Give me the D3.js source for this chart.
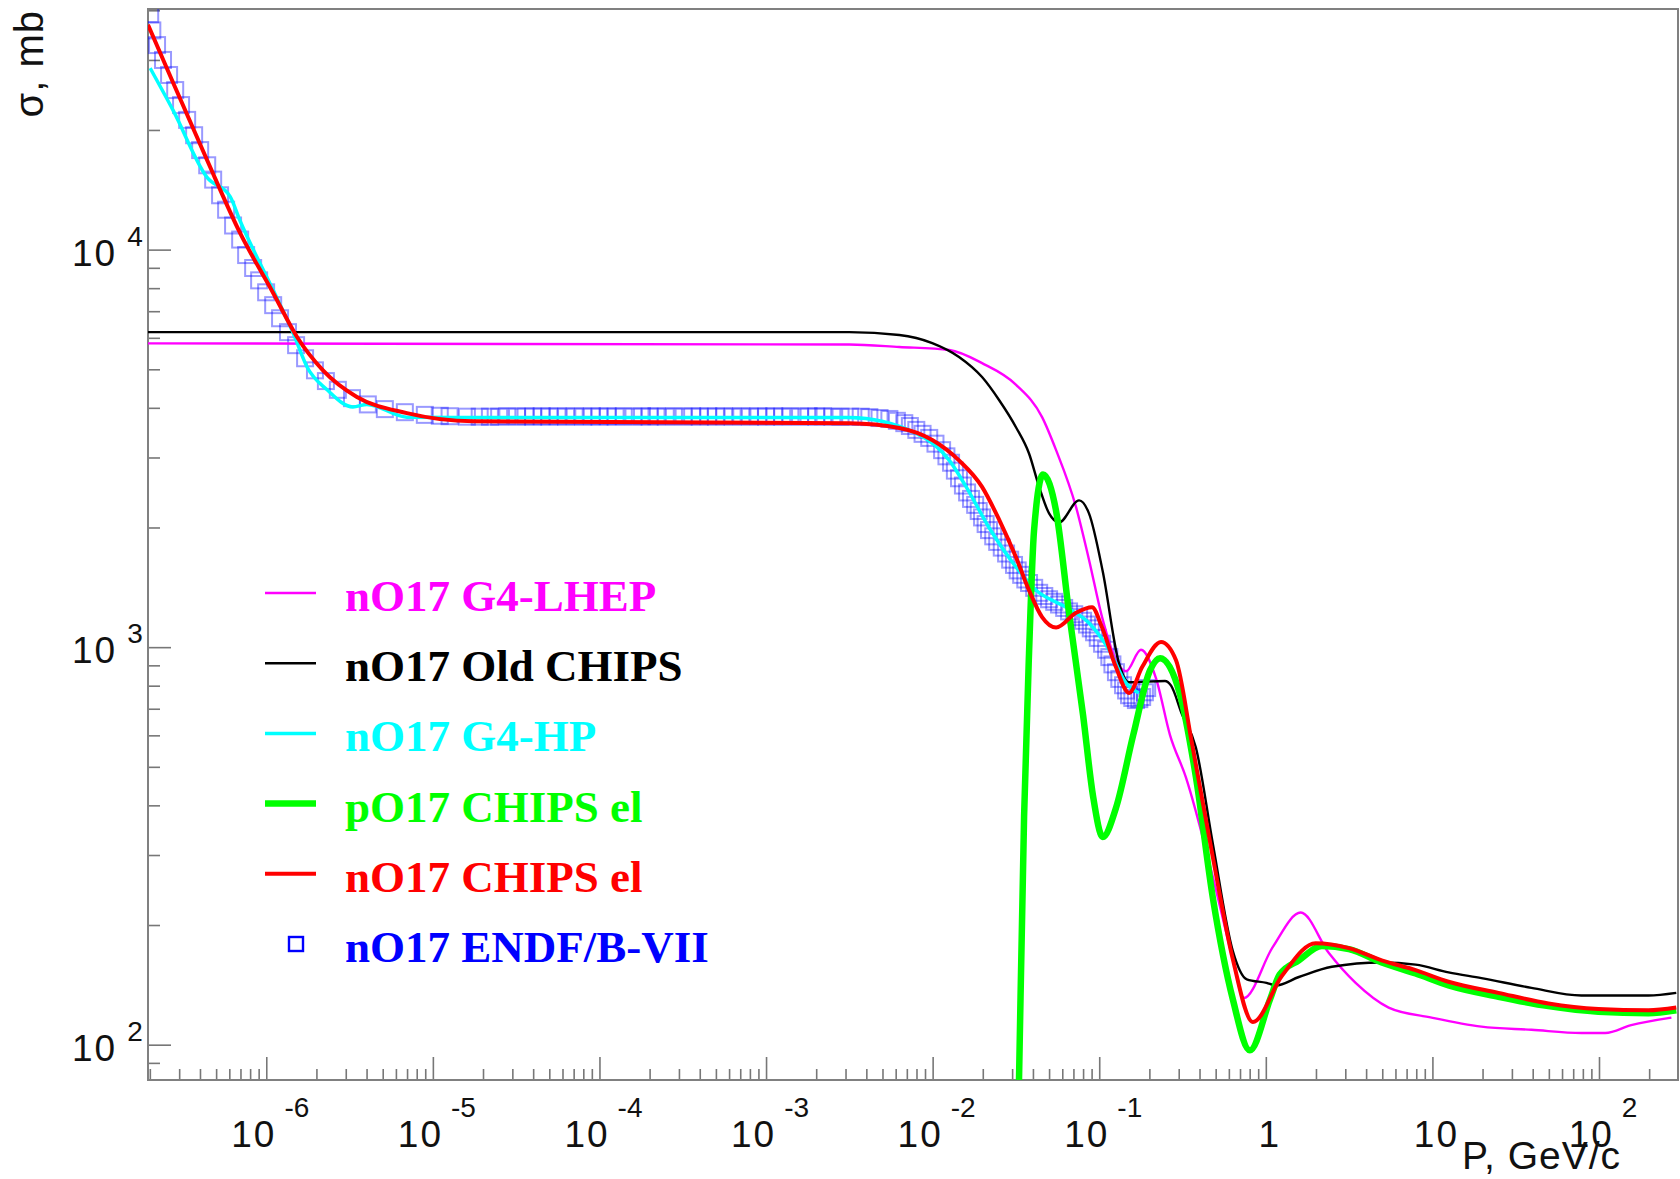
<!DOCTYPE html>
<html>
<head>
<meta charset="utf-8">
<script src="https://cdn.jsdelivr.net/npm/d3@7"></script>
<style>
  body { margin: 0; background: #fff; }
</style>
</head>
<body>
<div id="canvas"></div>
<script>
// momentum P (GeV/c) and cross section (mb)
const lhep = [
  [1.95e-7, 5810], [3.16e-3, 5770], [6.31e-3, 5690], [1.26e-2, 5590], [1.98e-2, 5180],
  [3.17e-2, 4570], [4.54e-2, 3790], [5.51e-2, 3130], [7.26e-2, 2250], [8.68e-2, 1660],
  [0.104, 1190], [0.126, 927], [0.145, 870], [0.178, 985], [0.219, 836], [0.266, 601],
  [0.331, 471], [0.481, 264], [0.634, 164], [0.738, 131], [1.10, 176], [1.62, 215],
  [2.39, 170], [3.46, 143], [5.46, 124], [9.89, 117], [19.7, 111], [39.3, 109],
  [78.4, 107], [109, 107], [156, 112], [272, 117]
];

const oldChips = [
  [1.95e-7, 6200], [3.16e-3, 6200], [6.31e-3, 6100], [9.95e-3, 5820], [1.44e-2, 5370],
  [1.98e-2, 4780], [2.51e-2, 4180], [3.17e-2, 3570], [3.79e-2, 3070], [4.36e-2, 2530],
  [5.00e-2, 2170], [5.74e-2, 2060], [7.57e-2, 2340], [8.68e-2, 2170], [0.105, 1550],
  [0.131, 916], [0.151, 816], [0.248, 822], [0.270, 800], [0.313, 680], [0.380, 560],
  [0.481, 320], [0.634, 172], [0.769, 146], [1.01, 143], [1.15, 141], [1.58, 148],
  [2.49, 157], [4.96, 161], [7.93, 159], [12.5, 152], [19.7, 147], [39.3, 139],
  [78.4, 133], [125, 133], [198, 133], [291, 135]
];

const g4hp = [
  [2.01e-7, 28600], [2.76e-7, 22400], [4.41e-7, 15200], [6.07e-7, 13600], [6.97e-7, 11800],
  [1.10e-6, 7910], [1.45e-6, 6170], [1.76e-6, 5060], [2.32e-6, 4440], [3.31e-6, 4020],
  [4.02e-6, 4080], [6.98e-6, 3790], [1.74e-5, 3780], [3.16e-3, 3780], [7.98e-3, 3450],
  [1.26e-2, 2950], [1.59e-2, 2530], [2.18e-2, 2000], [3.17e-2, 1590], [4.18e-2, 1390],
  [6.32e-2, 1260], [8.68e-2, 1150], [0.115, 982], [0.145, 812], [0.173, 767]
];

const pChipsEl = [
  [0.0321, 44], [0.0330, 81.5], [0.0354, 376], [0.0379, 966], [0.0406, 1960],
  [0.0460, 2720], [0.0551, 2200], [0.0659, 1220], [0.0800, 674], [0.0918, 422],
  [0.105, 333], [0.126, 394], [0.160, 601], [0.202, 875], [0.232, 938], [0.305, 762],
  [0.380, 473], [0.481, 234], [0.634, 130], [0.802, 96.8], [1.06, 130], [1.21, 150],
  [1.58, 163], [2.17, 177], [3.15, 174], [4.96, 161], [7.93, 151], [12.5, 141],
  [24.9, 132], [49.7, 125], [99.1, 121], [198, 120], [291, 122]
];

const nChipsEl = [
  [1.95e-7, 36800], [2.76e-7, 26300], [4.41e-7, 16800], [6.97e-7, 11000], [1.10e-6, 7780],
  [1.53e-6, 6030], [2.19e-6, 4970], [3.50e-6, 4260], [6.98e-6, 3880], [1.74e-5, 3700],
  [3.16e-3, 3660], [6.31e-3, 3560], [9.95e-3, 3320], [1.44e-2, 2950], [1.98e-2, 2530],
  [2.51e-2, 2090], [3.17e-2, 1680], [3.79e-2, 1390], [4.54e-2, 1190], [5.51e-2, 1120],
  [7.26e-2, 1220], [9.05e-2, 1260], [0.104, 1120], [0.126, 891], [0.151, 767],
  [0.181, 891], [0.235, 1030], [0.289, 927], [0.360, 574], [0.481, 296], [0.634, 164],
  [0.836, 114], [1.25, 149], [1.99, 180], [3.15, 175], [4.96, 163], [7.93, 154],
  [12.5, 144], [24.9, 135], [49.7, 127], [99.1, 123], [198, 122], [291, 124]
];

const endf = [
  [2.01e-7, 39100], [2.07e-7, 35600], [2.21e-7, 32700], [2.40e-7, 30000], [2.61e-7, 27500],
  [2.84e-7, 25200], [3.08e-7, 23100], [3.35e-7, 21200], [3.69e-7, 19400], [4.01e-7, 17800],
  [4.42e-7, 16300], [4.80e-7, 15000], [5.28e-7, 13700], [5.74e-7, 12600], [6.32e-7, 11500],
  [6.97e-7, 10600], [7.57e-7, 9690], [8.34e-7, 8990], [9.06e-7, 8370], [9.98e-7, 7810],
  [1.10e-6, 7250], [1.21e-6, 6720], [1.35e-6, 6200], [1.51e-6, 5750], [1.71e-6, 5330],
  [1.96e-6, 4970], [2.28e-6, 4670], [2.69e-6, 4440], [3.27e-6, 4230], [4.07e-6, 4080],
  [5.15e-6, 3970], [6.79e-6, 3900], [8.95e-6, 3840], [1.1e-5, 3820], [1.26e-5, 3810],
  [1.6e-5, 3800], [1.91e-5, 3800], [2.2e-5, 3800],
  [2.5e-5, 3800], [2.8e-5, 3810], [3.2e-5, 3800], [3.6e-5, 3810], [4e-5, 3800], [4.5e-5, 3810],
  [5e-5, 3800], [5.6e-5, 3810], [6.3e-5, 3800], [7.1e-5, 3810], [8e-5, 3800], [9e-5, 3810],
  [1e-4, 3800], [1.12e-4, 3810], [1.25e-4, 3800], [1.4e-4, 3810], [1.6e-4, 3800],
  [1.8e-4, 3810], [2e-4, 3800], [2.2e-4, 3810], [2.5e-4, 3800], [2.8e-4, 3810],
  [3.2e-4, 3800], [3.6e-4, 3810], [4e-4, 3800], [4.5e-4, 3810], [5e-4, 3800],
  [5.6e-4, 3810], [6.3e-4, 3800], [7.1e-4, 3810], [8e-4, 3800], [9e-4, 3810],
  [1e-3, 3800], [1.12e-3, 3810], [1.25e-3, 3800], [1.4e-3, 3810], [1.6e-3, 3800],
  [1.8e-3, 3810], [2e-3, 3800], [2.2e-3, 3810], [2.5e-3, 3800], [2.8e-3, 3800],
  [3.2e-3, 3800], [3.7e-3, 3800],
  [4.17e-3, 3790], [4.8e-3, 3770], [5.50e-3, 3750], [6.1e-3, 3710], [6.76e-3, 3660],
  [7.3e-3, 3600], [7.98e-3, 3520], [8.7e-3, 3440], [9.54e-3, 3360], [1.04e-2, 3250],
  [1.14e-2, 3130], [1.21e-2, 3020], [1.29e-2, 2910], [1.36e-2, 2780], [1.44e-2, 2660],
  [1.52e-2, 2550], [1.61e-2, 2450], [1.70e-2, 2360], [1.80e-2, 2280], [1.89e-2, 2200],
  [1.98e-2, 2120], [2.08e-2, 2040], [2.18e-2, 1970], [2.31e-2, 1900], [2.44e-2, 1840],
  [2.60e-2, 1780], [2.76e-2, 1720], [2.92e-2, 1660], [3.08e-2, 1610], [3.24e-2, 1560],
  [3.40e-2, 1520], [3.60e-2, 1480], [3.79e-2, 1450], [4.07e-2, 1410], [4.36e-2, 1370],
  [4.68e-2, 1345], [5.00e-2, 1320], [5.37e-2, 1300], [5.74e-2, 1280], [6.16e-2, 1255],
  [6.59e-2, 1230], [7.08e-2, 1210], [7.57e-2, 1190], [8.0e-2, 1165], [8.45e-2, 1140],
  [8.9e-2, 1115], [9.31e-2, 1090], [9.8e-2, 1055], [0.104, 1020], [0.110, 985],
  [0.115, 944], [0.120, 905], [0.126, 865], [0.132, 832], [0.139, 802], [0.145, 778],
  [0.151, 757], [0.158, 745], [0.166, 736], [0.174, 740], [0.181, 749], [0.188, 770],
  [0.194, 789]
];

const xMajorTicks = [1e-6, 1e-5, 1e-4, 1e-3, 1e-2, 1e-1, 1, 10, 100];
const xTickLabels = [["10", "-6"], ["10", "-5"], ["10", "-4"], ["10", "-3"], ["10", "-2"],
  ["10", "-1"], ["1", ""], ["10", ""], ["10", "2"]];
const yMajorTicks = [100, 1000, 10000];
const yTickLabels = [["10", "2"], ["10", "3"], ["10", "4"]];

const legendLabels = ["nO17 G4-LHEP", "nO17 Old CHIPS", "nO17 G4-HP", "pO17 CHIPS el", "nO17 CHIPS el", "nO17 ENDF/B-VII"];
const legendColors = ["#ff00ff", "#000000", "#00ffff", "#00ff00", "#ff0000", "#0000ff"];

const width = 1680;
const height = 1179;
const margin = { top: 9, right: 2, bottom: 99, left: 148 };
const inWidth = width - margin.left - margin.right;
const inHeight = height - margin.top - margin.bottom;

const svg = d3.select("#canvas").append("svg")
  .attr("width", width)
  .attr("height", height);

const x = d3.scaleLog().domain([1.95e-7, 298]).range([0, inWidth]);
const y = d3.scaleLog().domain([81.5, 40300]).range([inHeight, 0]);

const g = svg.append("g").attr("transform", `translate(${margin.left},${margin.top})`);

g.append("clipPath").attr("id", "plot-clip")
  .append("rect").attr("width", inWidth).attr("height", inHeight);

// minor ticks: 2..9 of each decade
const minorTicks = (lo, hi) => {
  const out = [];
  for (let e = Math.floor(Math.log10(lo)); e <= Math.ceil(Math.log10(hi)); e++) {
    for (let k = 2; k <= 9; k++) {
      const v = k * Math.pow(10, e);
      if (v > lo && v < hi) out.push(v);
    }
  }
  return out;
};

const styleAxis = (sel) => {
  sel.select(".domain").remove();
  sel.selectAll(".tick line").attr("stroke", "#777").attr("stroke-width", 1.6);
};

g.append("g").attr("transform", `translate(0,${inHeight})`)
  .call(d3.axisBottom(x).tickValues(xMajorTicks).tickSize(-23).tickFormat(""))
  .call(styleAxis);
g.append("g").attr("transform", `translate(0,${inHeight})`)
  .call(d3.axisBottom(x).tickValues(minorTicks(...x.domain())).tickSize(-11).tickFormat(""))
  .call(styleAxis);
g.append("g")
  .call(d3.axisLeft(y).tickValues(yMajorTicks).tickSize(-23).tickFormat(""))
  .call(styleAxis);
g.append("g")
  .call(d3.axisLeft(y).tickValues(minorTicks(...y.domain())).tickSize(-12).tickFormat(""))
  .call(styleAxis);

// frame
g.append("rect")
  .attr("width", inWidth).attr("height", inHeight)
  .attr("fill", "none").attr("stroke", "#808080").attr("stroke-width", 2);

// tick labels
const xl = g.append("g").attr("font-family", "'Liberation Sans', Arial, sans-serif")
  .attr("font-size", 37).attr("fill", "#111");
xMajorTicks.forEach((v, i) => {
  const t = xl.append("text")
    .attr("x", x(v) + 4).attr("y", inHeight + 67)
    .attr("text-anchor", "middle").attr("letter-spacing", 2);
  t.append("tspan").text(xTickLabels[i][0]);
  if (xTickLabels[i][1]) {
    t.append("tspan").attr("dx", 8).attr("dy", -30).attr("font-size", 28)
      .attr("letter-spacing", 0).text(xTickLabels[i][1]);
  }
});

const yl = g.append("g").attr("font-family", "'Liberation Sans', Arial, sans-serif")
  .attr("font-size", 37).attr("fill", "#111");
yMajorTicks.forEach((v, i) => {
  const t = yl.append("text")
    .attr("x", -76).attr("y", y(v) + 16).attr("letter-spacing", 2);
  t.append("tspan").text(yTickLabels[i][0]);
  t.append("tspan").attr("dx", 10).attr("dy", -20).attr("font-size", 28)
    .attr("letter-spacing", 0).text(yTickLabels[i][1]);
});

// axis titles
svg.append("text")
  .attr("x", 1621).attr("y", 1169)
  .attr("text-anchor", "end")
  .attr("font-family", "'Liberation Sans', Arial, sans-serif")
  .attr("font-size", 39).attr("letter-spacing", 1).attr("fill", "#111")
  .text("P, GeV/c");

svg.append("text")
  .attr("transform", "translate(43,10) rotate(-90)")
  .attr("text-anchor", "end")
  .attr("font-family", "'Liberation Sans', Arial, sans-serif")
  .attr("font-size", 40).attr("letter-spacing", 1).attr("fill", "#111")
  .text("σ, mb");

// data
const plot = g.append("g").attr("clip-path", "url(#plot-clip)");

plot.selectAll("rect.endf")
  .data(endf)
  .enter()
  .append("rect")
  .attr("class", "endf")
  .attr("x", (d) => x(d[0]) - 8)
  .attr("y", (d) => y(d[1]) - 8)
  .attr("width", 16)
  .attr("height", 16)
  .attr("fill", "none")
  .attr("stroke", "#0000ff")
  .attr("stroke-opacity", 0.4)
  .attr("stroke-width", 2);

const line = d3.line()
  .x((d) => x(d[0]))
  .y((d) => y(d[1]))
  .curve(d3.curveMonotoneX);

const series = [
  { data: lhep, color: "#ff00ff", w: 2.4 },
  { data: oldChips, color: "#000000", w: 2.4 },
  { data: g4hp, color: "#00ffff", w: 3.5 },
  { data: pChipsEl, color: "#00ff00", w: 6.5 },
  { data: nChipsEl, color: "#ff0000", w: 4 }
];

plot.selectAll("path.curve")
  .data(series)
  .enter()
  .append("path")
  .attr("class", "curve")
  .attr("d", (d) => line(d.data))
  .attr("fill", "none")
  .attr("stroke", (d) => d.color)
  .attr("stroke-width", (d) => d.w)
  .attr("stroke-linejoin", "round");

// legend
const legendWidths = [2.4, 2.4, 3.5, 6.5, 4, 0];
const legend = svg.append("g");
legendLabels.forEach((label, i) => {
  const cy = 593 + i * 70.2;
  if (i < 5) {
    legend.append("line")
      .attr("x1", 265).attr("x2", 316).attr("y1", cy).attr("y2", cy)
      .attr("stroke", legendColors[i]).attr("stroke-width", legendWidths[i]);
  } else {
    legend.append("rect")
      .attr("x", 289).attr("y", cy - 7).attr("width", 14).attr("height", 14)
      .attr("fill", "none").attr("stroke", legendColors[i]).attr("stroke-width", 2.4);
  }
  legend.append("text")
    .attr("x", 345).attr("y", cy + 18)
    .attr("font-family", "'Liberation Serif', 'Times New Roman', serif")
    .attr("font-weight", "bold")
    .attr("font-size", 45)
    .attr("fill", legendColors[i])
    .text(label);
});
</script>
</body>
</html>
